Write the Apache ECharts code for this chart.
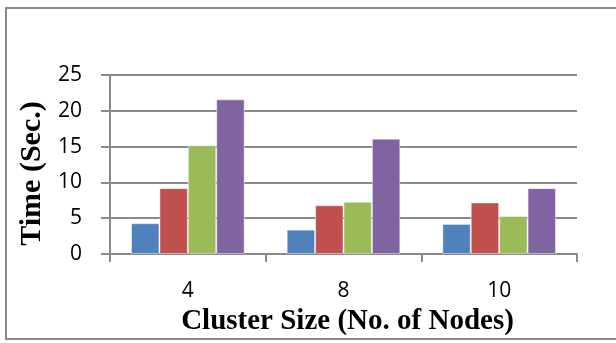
<!DOCTYPE html>
<html>
<head>
<meta charset="utf-8">
<script src="https://cdn.jsdelivr.net/npm/echarts@6/dist/echarts.min.js"></script>
<style>
    html, body { margin: 0; padding: 0; background: #fff; }
    #wrap { position: relative; width: 616px; height: 343px; overflow: hidden; }
    #frame { position: absolute; left: 5px; top: 7px; width: 640px; height: 333px; border: 2px solid #8a8a8a; box-sizing: border-box; }
    #chart { position: absolute; left: 0; top: 0; width: 616px; height: 343px; }
</style>
</head>
<body>
<div id="wrap">
    <div id="frame"></div>
    <div id="chart"></div>
</div>
<script>
'use strict';

// 数据
var clusterSizes = ['4', '8', '10'];
var series1 = [4.3, 3.4, 4.2];
var series2 = [9.2, 6.8, 7.2];
var series3 = [15.2, 7.3, 5.3];
var series4 = [21.6, 16.1, 9.2];
var seriesNames = ['Series 1', 'Series 2', 'Series 3', 'Series 4'];
var seriesColors = ['#4F81BD', '#C0504D', '#9BBB59', '#8064A2'];

var allSeries = [series1, series2, series3, series4];

var buildSeries = function () {
    var list = [];
    for (var i = 0; i < allSeries.length; i++) {
        list.push({
            name: seriesNames[i],
            type: 'bar',
            data: allSeries[i],
            barGap: 0,
            barCategoryGap: '27%',
            itemStyle: {
                color: seriesColors[i],
                borderColor: 'rgba(255,255,255,0.45)',
                borderWidth: 1
            }
        });
    }
    return list;
};

var option = {
    animation: false,
    grid: { left: 110, right: 39, top: 75, bottom: 89 },
    xAxis: {
        type: 'category',
        data: clusterSizes,
        name: 'Cluster Size (No. of Nodes)',
        nameLocation: 'middle',
        nameGap: 40,
        nameTextStyle: {
            fontFamily: 'Liberation Serif',
            fontWeight: 'bold',
            fontSize: 29,
            color: '#000',
            verticalAlign: 'top',
            padding: [0, 0, 0, 8]
        },
        axisLine: { lineStyle: { color: '#8a8a8a', width: 2 } },
        axisTick: { show: true, length: 8, interval: 0, lineStyle: { color: '#8a8a8a', width: 2 } },
        axisLabel: { fontFamily: 'Open Sans', fontSize: 21, color: '#000', margin: 27 }
    },
    yAxis: {
        type: 'value',
        min: 0,
        max: 25,
        interval: 5,
        name: 'Time (Sec.)',
        nameLocation: 'middle',
        nameGap: 60,
        nameTextStyle: {
            fontFamily: 'Liberation Serif',
            fontWeight: 'bold',
            fontSize: 30,
            color: '#000',
            padding: [0, 18, 0, 0]
        },
        axisLine: { show: true, lineStyle: { color: '#8a8a8a', width: 2 } },
        axisTick: { show: true, length: 9, lineStyle: { color: '#8a8a8a', width: 2 } },
        axisLabel: { fontFamily: 'Open Sans', fontSize: 21, color: '#000', margin: 28 },
        splitLine: { lineStyle: { color: '#8a8a8a', width: 2 } }
    },
    series: buildSeries()
};

var myChart = echarts.init(document.getElementById('chart'));
myChart.setOption(option);
</script>
</body>
</html>
